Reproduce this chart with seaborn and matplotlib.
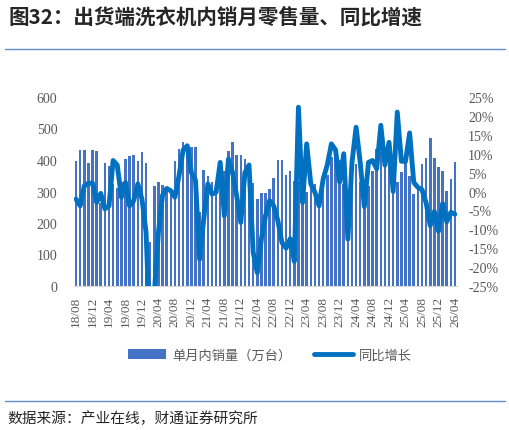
import numpy as np
import pandas as pd
import matplotlib
matplotlib.use("Agg")
import matplotlib.pyplot as plt
from matplotlib.lines import Line2D
from matplotlib.ticker import FuncFormatter
import seaborn as sns

# ---- data ----
months = pd.period_range("2018-08", "2026-04", freq="M").strftime("%y/%m").tolist()

sales = [396, 432, 432, 390, 433, 428, 265, 390, 380, 324,
         311, 330, 402, 414, 417, 397, 426, 391, 139, 316,
         330, 321, 314, 300, 396, 435, 456, 445, 440, 440,
         236, 368, 349, 329, 320, 330, 366, 430, 456, 416,
         416, 403, 380, 328, 276, 295, 295, 308, 343, 400,
         400, 353, 364, 334, 330, 360, 300, 320, 324, 290,
         352, 352, 411, 430, 400, 324, 300, 350, 387, 331,
         308, 318, 366, 435, 424, 410, 424, 400, 331, 363,
         390, 350, 292, 313, 387, 405, 469, 405, 377, 366,
         303, 340, 395]

yoy = [-2.0, -3.8, 1.5, 2.2, 2.2, -2.9, -0.5, -4.6, -3.8, 8.2,
       7.0, -1.5, 2.4, -3.8, -2.4, 2.0, -2.0, -10.8, -40.0, -27.0,
       -10.8, -1.0, 0.8, 0.2, -1.5, 4.2, 11.0, 12.1, 5.0, 3.0,
       -17.9, -7.3, 2.0, -0.7, -0.2, 7.7, -6.4, 8.6, 5.0, -1.1,
       -8.2, 5.0, 7.0, -16.0, -21.5, -12.6, -6.4, -2.4, -3.8, -7.7,
       -13.5, -15.0, -12.5, -18.5, 22.3, -2.9, 12.6, 2.0, -0.2, -3.8,
       3.3, 7.0, 12.6, 11.0, 2.5, 10.0, -12.6, 7.7, 17.0, 7.7,
       -4.0, 7.7, 8.2, 6.0, 17.5, 7.0, 13.0, 0.0, 21.0, 8.0,
       8.0, 15.5, 2.4, 1.1, 0.5, -3.0, -9.0, -5.3, -10.5, -3.2,
       -8.0, -5.5, -6.0]

legend_labels = ["单月内销量（万台）", "同比增长"]
title = "图32：出货端洗衣机内销月零售量、同比增速"
source = "数据来源：产业在线，财通证券研究所"

bar_color = "#4472C4"
line_color = "#0070C0"
tick_color = "#595959"

sns.set_theme(style="white")
plt.rcParams["font.family"] = ["Noto Sans CJK SC", "DejaVu Sans"]
plt.rcParams["axes.unicode_minus"] = False

df = pd.DataFrame({"month": months, "sales": sales, "yoy": yoy})
df["pos"] = range(len(df))

fig = plt.figure(figsize=(5.1, 4.31), dpi=100)
ax = fig.add_axes([74 / 510, 1 - 287 / 431, (457 - 74) / 510, (287 - 98) / 431])

sns.barplot(data=df, x="pos", y="sales", color=bar_color, saturation=1,
            width=0.62, linewidth=0, ax=ax)

ax2 = ax.twinx()
sns.lineplot(data=df, x="pos", y="yoy", ax=ax2, color=line_color,
             linewidth=3.5, solid_joinstyle="round", solid_capstyle="round")

ax.set_xlim(-0.5, len(df) - 0.5)
ax.set_ylim(0, 600)
ax2.set_ylim(-25, 25)
ax.set_yticks(range(0, 601, 100))
ax2.set_yticks(range(-25, 26, 5))
ax2.yaxis.set_major_formatter(FuncFormatter(lambda v, p: f"{v:.0f}%"))

ax.set_xticks(range(0, len(df), 4))
ax.set_xticklabels(months[::4], rotation=90)
ax.set_xticks(np.arange(-0.5, len(df), 1), minor=True)

for a in (ax, ax2):
    a.set_xlabel("")
    a.set_ylabel("")
    for s in a.spines.values():
        s.set_visible(False)
ax.spines["bottom"].set_visible(True)
ax.spines["bottom"].set_color("#d9d9d9")
ax.spines["bottom"].set_linewidth(0.8)

ax.tick_params(axis="x", which="major", length=0, pad=7)
ax.tick_params(axis="x", which="minor", length=3, width=0.8, color="#d9d9d9")
ax.tick_params(axis="y", length=0, pad=12)
ax2.tick_params(axis="y", length=0, pad=8)

for lab in ax.get_xticklabels() + ax.get_yticklabels() + ax2.get_yticklabels():
    lab.set_fontfamily("Liberation Serif")
    lab.set_color(tick_color)
    lab.set_fontsize(10)
for lab in ax.get_xticklabels():
    lab.set_fontsize(9.5)

fig.legend(handles=[ax.patches[0], ax2.lines[0]], labels=legend_labels,
           loc="center", bbox_to_anchor=(0.529, 0.174), ncol=2, frameon=False,
           handlelength=2.9, handletextpad=0.45, columnspacing=1.75,
           labelcolor=tick_color, prop={"family": ["Noto Sans CJK SC"], "size": 9.5})

# title, rules and source note
fig.text(0.016, 0.961, title, fontsize=14.8, fontweight="bold", va="center")
fig.add_artist(Line2D([5 / 510, 505 / 510], [1 - 49.5 / 431] * 2,
                      color="#5b8ccc", linewidth=1.0))
fig.add_artist(Line2D([5 / 510, 505 / 510], [1 - 401.5 / 431] * 2,
                      color="#5b8ccc", linewidth=1.0))
fig.text(0.014, 1 - 419 / 431, source, fontsize=10.6, va="center")

fig.savefig("out.png", dpi=100)
